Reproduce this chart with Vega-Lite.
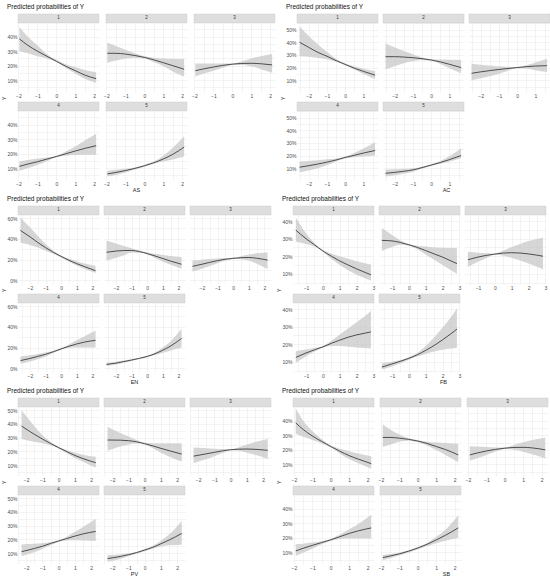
{
"$schema": "https://vega.github.io/schema/vega-lite/v6.json",
"background": "white",
"padding": {"left": 1, "top": 4, "right": 1, "bottom": 0},
"config": {
  "font": "Liberation Sans",
  "view": {"stroke": null},
  "axis": {"labelFontSize": 5, "labelColor": "#4d4d4d", "ticks": false, "domain": false, "gridColor": "#ebebeb", "gridWidth": 0.6, "labelPadding": 1, "title": null, "labelOverlap": false, "labelFlush": false, "labelBound": false, "tickCount": 40, "titleFontSize": 5.5, "titleFontWeight": "normal", "titleColor": "#222", "titlePadding": 1},
  "title": {"fontSize": 6.5, "fontWeight": "normal", "anchor": "start", "offset": 3, "color": "#111"},
  "area": {"fill": "#c4c4c4", "opacity": 0.7, "interpolate": "monotone"},
  "line": {"color": "#2b2b2b", "strokeWidth": 0.8, "interpolate": "monotone"},
  "rect": {"fill": "#dedede", "stroke": "#cccccc", "strokeWidth": 0.5},
  "text": {"fontSize": 4.5, "color": "#333", "baseline": "middle"},
  "concat": {"spacing": 3}
},
"datasets": {"d": [
{"v":"AS","c":"1","x":-1.95,"p":38.5,"lo":30,"hi":46.5},{"v":"AS","c":"1","x":-1.5,"p":34,"lo":28.5,"hi":40},{"v":"AS","c":"1","x":-1,"p":30,"lo":26.5,"hi":34},{"v":"AS","c":"1","x":-0.5,"p":26.5,"lo":25,"hi":28},{"v":"AS","c":"1","x":0,"p":23,"lo":22.5,"hi":24},{"v":"AS","c":"1","x":0.5,"p":19.5,"lo":18.5,"hi":21},{"v":"AS","c":"1","x":1,"p":16.5,"lo":14.5,"hi":19},{"v":"AS","c":"1","x":1.5,"p":13.5,"lo":11,"hi":17},{"v":"AS","c":"1","x":2.1,"p":11,"lo":8,"hi":15.5},
{"v":"AS","c":"2","x":-1.95,"p":28.5,"lo":22,"hi":36},{"v":"AS","c":"2","x":-1.5,"p":28.5,"lo":23.5,"hi":33.5},{"v":"AS","c":"2","x":-1,"p":28,"lo":25,"hi":31},{"v":"AS","c":"2","x":-0.5,"p":27,"lo":25.5,"hi":28.5},{"v":"AS","c":"2","x":0,"p":25.7,"lo":25,"hi":26.5},{"v":"AS","c":"2","x":0.5,"p":24,"lo":22.5,"hi":25.5},{"v":"AS","c":"2","x":1,"p":22,"lo":19.5,"hi":25},{"v":"AS","c":"2","x":1.5,"p":20,"lo":16,"hi":24.7},{"v":"AS","c":"2","x":2.1,"p":17.5,"lo":12.5,"hi":24.5},
{"v":"AS","c":"3","x":-1.95,"p":16.5,"lo":12.5,"hi":21.5},{"v":"AS","c":"3","x":-1.5,"p":17.8,"lo":14.5,"hi":21.5},{"v":"AS","c":"3","x":-1,"p":19,"lo":16.5,"hi":21.5},{"v":"AS","c":"3","x":-0.5,"p":20.2,"lo":18.5,"hi":21.5},{"v":"AS","c":"3","x":0,"p":21,"lo":20.5,"hi":21.5},{"v":"AS","c":"3","x":0.5,"p":21.5,"lo":20.5,"hi":23},{"v":"AS","c":"3","x":1,"p":21.6,"lo":19.5,"hi":25},{"v":"AS","c":"3","x":1.5,"p":21.3,"lo":17.5,"hi":26.5},{"v":"AS","c":"3","x":2.1,"p":20.5,"lo":15,"hi":28},
{"v":"AS","c":"4","x":-1.95,"p":11.2,"lo":8,"hi":14.6},{"v":"AS","c":"4","x":-1.5,"p":12.8,"lo":10,"hi":15.6},{"v":"AS","c":"4","x":-1,"p":14.4,"lo":12.2,"hi":16.5},{"v":"AS","c":"4","x":-0.5,"p":16.2,"lo":14.8,"hi":17.3},{"v":"AS","c":"4","x":0,"p":18,"lo":17.5,"hi":18.5},{"v":"AS","c":"4","x":0.5,"p":19.9,"lo":18.5,"hi":21.5},{"v":"AS","c":"4","x":1,"p":21.8,"lo":19,"hi":25},{"v":"AS","c":"4","x":1.5,"p":23.6,"lo":19.2,"hi":29},{"v":"AS","c":"4","x":2.1,"p":25.5,"lo":19.3,"hi":33.8},
{"v":"AS","c":"5","x":-1.95,"p":6,"lo":4.2,"hi":8.2},{"v":"AS","c":"5","x":-1.5,"p":7,"lo":5.3,"hi":8.8},{"v":"AS","c":"5","x":-1,"p":8.3,"lo":7,"hi":9.5},{"v":"AS","c":"5","x":-0.5,"p":9.8,"lo":9,"hi":10.5},{"v":"AS","c":"5","x":0,"p":11.6,"lo":11,"hi":12.2},{"v":"AS","c":"5","x":0.5,"p":13.7,"lo":13,"hi":14.5},{"v":"AS","c":"5","x":1,"p":16.3,"lo":14.5,"hi":18.5},{"v":"AS","c":"5","x":1.5,"p":19.5,"lo":16,"hi":24},{"v":"AS","c":"5","x":2.1,"p":24.5,"lo":18,"hi":32},
{"v":"AC","c":"1","x":-2.5,"p":40,"lo":29,"hi":52.5},{"v":"AC","c":"1","x":-2,"p":36,"lo":28.5,"hi":45},{"v":"AC","c":"1","x":-1.5,"p":32,"lo":27.5,"hi":38.5},{"v":"AC","c":"1","x":-1,"p":29,"lo":26.5,"hi":32.5},{"v":"AC","c":"1","x":-0.5,"p":25.5,"lo":24.5,"hi":27},{"v":"AC","c":"1","x":0,"p":22.5,"lo":21.8,"hi":23.2},{"v":"AC","c":"1","x":0.5,"p":19.5,"lo":18.5,"hi":21},{"v":"AC","c":"1","x":1,"p":17,"lo":15,"hi":19},{"v":"AC","c":"1","x":1.64,"p":14,"lo":11,"hi":17},
{"v":"AC","c":"2","x":-2.5,"p":28.6,"lo":18.7,"hi":39},{"v":"AC","c":"2","x":-2,"p":28.6,"lo":21,"hi":36},{"v":"AC","c":"2","x":-1.5,"p":28.3,"lo":23.5,"hi":33},{"v":"AC","c":"2","x":-1,"p":27.8,"lo":25,"hi":30.5},{"v":"AC","c":"2","x":-0.5,"p":27,"lo":26,"hi":28},{"v":"AC","c":"2","x":0,"p":26,"lo":25.4,"hi":26.6},{"v":"AC","c":"2","x":0.5,"p":24.5,"lo":22.8,"hi":26.3},{"v":"AC","c":"2","x":1,"p":22.6,"lo":19.5,"hi":26.2},{"v":"AC","c":"2","x":1.64,"p":20,"lo":15.5,"hi":26},
{"v":"AC","c":"3","x":-2.5,"p":15.5,"lo":10,"hi":23},{"v":"AC","c":"3","x":-2,"p":16.6,"lo":11.5,"hi":22.3},{"v":"AC","c":"3","x":-1.5,"p":17.6,"lo":13.2,"hi":21.6},{"v":"AC","c":"3","x":-1,"p":18.5,"lo":15.2,"hi":21},{"v":"AC","c":"3","x":-0.5,"p":19.3,"lo":17.5,"hi":20.6},{"v":"AC","c":"3","x":0,"p":20,"lo":19.6,"hi":20.4},{"v":"AC","c":"3","x":0.5,"p":20.7,"lo":19.2,"hi":21.8},{"v":"AC","c":"3","x":1,"p":21.2,"lo":17.8,"hi":24},{"v":"AC","c":"3","x":1.64,"p":21.5,"lo":16.5,"hi":27},
{"v":"AC","c":"4","x":-2.5,"p":10.8,"lo":6.8,"hi":15.3},{"v":"AC","c":"4","x":-2,"p":12,"lo":8.3,"hi":15.8},{"v":"AC","c":"4","x":-1.5,"p":13.3,"lo":10,"hi":16.3},{"v":"AC","c":"4","x":-1,"p":14.8,"lo":12.3,"hi":17},{"v":"AC","c":"4","x":-0.5,"p":16.5,"lo":15.3,"hi":17.6},{"v":"AC","c":"4","x":0,"p":18.5,"lo":17.8,"hi":19.2},{"v":"AC","c":"4","x":0.5,"p":20.2,"lo":18.7,"hi":22},{"v":"AC","c":"4","x":1,"p":22,"lo":19.3,"hi":25.5},{"v":"AC","c":"4","x":1.64,"p":24,"lo":20,"hi":30.5},
{"v":"AC","c":"5","x":-2.5,"p":6,"lo":3.4,"hi":9},{"v":"AC","c":"5","x":-2,"p":6.7,"lo":4.4,"hi":9.2},{"v":"AC","c":"5","x":-1.5,"p":7.6,"lo":5.6,"hi":9.5},{"v":"AC","c":"5","x":-1,"p":8.7,"lo":7.3,"hi":10},{"v":"AC","c":"5","x":-0.5,"p":10.5,"lo":9.6,"hi":11.2},{"v":"AC","c":"5","x":0,"p":12.5,"lo":11.8,"hi":13.2},{"v":"AC","c":"5","x":0.5,"p":14.5,"lo":13.5,"hi":15.8},{"v":"AC","c":"5","x":1,"p":16.8,"lo":15.3,"hi":19.5},{"v":"AC","c":"5","x":1.64,"p":20,"lo":17.9,"hi":25.8},
{"v":"EN","c":"1","x":-2.6,"p":48,"lo":36.5,"hi":60.5},{"v":"EN","c":"1","x":-2,"p":42,"lo":34,"hi":51},{"v":"EN","c":"1","x":-1.5,"p":36.5,"lo":31.5,"hi":43},{"v":"EN","c":"1","x":-1,"p":31.5,"lo":28.5,"hi":35},{"v":"EN","c":"1","x":-0.5,"p":27,"lo":25.5,"hi":28.5},{"v":"EN","c":"1","x":0,"p":23,"lo":22,"hi":24},{"v":"EN","c":"1","x":0.5,"p":19.3,"lo":18,"hi":21},{"v":"EN","c":"1","x":1,"p":16,"lo":14.3,"hi":18.3},{"v":"EN","c":"1","x":1.5,"p":13.2,"lo":11,"hi":16.2},{"v":"EN","c":"1","x":2.2,"p":9.3,"lo":7.2,"hi":14},
{"v":"EN","c":"2","x":-2.6,"p":27,"lo":19,"hi":38},{"v":"EN","c":"2","x":-2,"p":28.2,"lo":21.5,"hi":35.5},{"v":"EN","c":"2","x":-1.5,"p":28.7,"lo":24,"hi":33},{"v":"EN","c":"2","x":-1,"p":28.8,"lo":26.5,"hi":31},{"v":"EN","c":"2","x":-0.5,"p":27.7,"lo":26.5,"hi":28.8},{"v":"EN","c":"2","x":0,"p":25.8,"lo":24.8,"hi":26.8},{"v":"EN","c":"2","x":0.5,"p":23.5,"lo":21.5,"hi":25.5},{"v":"EN","c":"2","x":1,"p":21,"lo":18,"hi":24.5},{"v":"EN","c":"2","x":1.5,"p":18.5,"lo":15,"hi":23.5},{"v":"EN","c":"2","x":2.2,"p":15.5,"lo":11,"hi":22.5},
{"v":"EN","c":"3","x":-2.6,"p":13.5,"lo":8.5,"hi":19},{"v":"EN","c":"3","x":-2,"p":15.5,"lo":11.2,"hi":19.8},{"v":"EN","c":"3","x":-1.5,"p":17.3,"lo":13.8,"hi":20.5},{"v":"EN","c":"3","x":-1,"p":19,"lo":16.5,"hi":21},{"v":"EN","c":"3","x":-0.5,"p":20.3,"lo":19,"hi":21.4},{"v":"EN","c":"3","x":0,"p":21.2,"lo":20.5,"hi":21.8},{"v":"EN","c":"3","x":0.5,"p":21.8,"lo":20.3,"hi":23.3},{"v":"EN","c":"3","x":1,"p":22,"lo":19,"hi":25},{"v":"EN","c":"3","x":1.5,"p":21.3,"lo":16,"hi":26},{"v":"EN","c":"3","x":2.2,"p":19.5,"lo":11,"hi":27},
{"v":"EN","c":"4","x":-2.6,"p":7.5,"lo":4.4,"hi":11.5},{"v":"EN","c":"4","x":-2,"p":9.5,"lo":6.5,"hi":12.5},{"v":"EN","c":"4","x":-1.5,"p":11.5,"lo":8.8,"hi":13.8},{"v":"EN","c":"4","x":-1,"p":13.5,"lo":11.5,"hi":15.3},{"v":"EN","c":"4","x":-0.5,"p":16,"lo":14.8,"hi":17},{"v":"EN","c":"4","x":0,"p":18.7,"lo":18,"hi":19.5},{"v":"EN","c":"4","x":0.5,"p":21.3,"lo":19.8,"hi":23},{"v":"EN","c":"4","x":1,"p":23.5,"lo":20,"hi":27},{"v":"EN","c":"4","x":1.5,"p":25.3,"lo":20,"hi":31},{"v":"EN","c":"4","x":2.2,"p":27,"lo":20,"hi":36.5},
{"v":"EN","c":"5","x":-2.6,"p":3.8,"lo":2.2,"hi":5.6},{"v":"EN","c":"5","x":-2,"p":5,"lo":3.6,"hi":6.4},{"v":"EN","c":"5","x":-1.5,"p":6.5,"lo":5.3,"hi":7.5},{"v":"EN","c":"5","x":-1,"p":8,"lo":7.2,"hi":8.8},{"v":"EN","c":"5","x":-0.5,"p":9.6,"lo":9,"hi":10.3},{"v":"EN","c":"5","x":0,"p":11.5,"lo":10.8,"hi":12.2},{"v":"EN","c":"5","x":0.5,"p":14,"lo":12.8,"hi":15.3},{"v":"EN","c":"5","x":1,"p":17.5,"lo":15,"hi":20},{"v":"EN","c":"5","x":1.5,"p":21.5,"lo":17.3,"hi":26},{"v":"EN","c":"5","x":2.2,"p":28.8,"lo":20,"hi":38},
{"v":"FB","c":"1","x":-1.6,"p":34.8,"lo":28.4,"hi":42},{"v":"FB","c":"1","x":-1,"p":30,"lo":27,"hi":33},{"v":"FB","c":"1","x":-0.5,"p":26.5,"lo":25.5,"hi":27.5},{"v":"FB","c":"1","x":0,"p":23,"lo":22.5,"hi":23.5},{"v":"FB","c":"1","x":0.5,"p":20,"lo":18.5,"hi":21.5},{"v":"FB","c":"1","x":1,"p":17.3,"lo":15,"hi":20},{"v":"FB","c":"1","x":1.5,"p":15,"lo":12,"hi":18.5},{"v":"FB","c":"1","x":2,"p":12.8,"lo":9.5,"hi":17.2},{"v":"FB","c":"1","x":2.5,"p":10.8,"lo":7.5,"hi":16},{"v":"FB","c":"1","x":2.85,"p":9.4,"lo":6.2,"hi":15.3},
{"v":"FB","c":"2","x":-1.6,"p":29,"lo":23,"hi":36},{"v":"FB","c":"2","x":-1,"p":28.7,"lo":25.2,"hi":32},{"v":"FB","c":"2","x":-0.5,"p":27.8,"lo":26.5,"hi":29},{"v":"FB","c":"2","x":0,"p":26.5,"lo":26,"hi":27},{"v":"FB","c":"2","x":0.5,"p":25,"lo":24,"hi":26},{"v":"FB","c":"2","x":1,"p":23.2,"lo":21,"hi":25.5},{"v":"FB","c":"2","x":1.5,"p":21.3,"lo":18,"hi":25},{"v":"FB","c":"2","x":2,"p":19.5,"lo":15,"hi":24.8},{"v":"FB","c":"2","x":2.5,"p":17.3,"lo":12,"hi":24.6},{"v":"FB","c":"2","x":2.85,"p":15.8,"lo":10,"hi":24.5},
{"v":"FB","c":"3","x":-1.6,"p":18,"lo":14,"hi":22.5},{"v":"FB","c":"3","x":-1,"p":19.5,"lo":16.8,"hi":22},{"v":"FB","c":"3","x":-0.5,"p":20.5,"lo":19,"hi":21.7},{"v":"FB","c":"3","x":0,"p":21.2,"lo":20.8,"hi":21.6},{"v":"FB","c":"3","x":0.5,"p":21.8,"lo":20.3,"hi":23.2},{"v":"FB","c":"3","x":1,"p":22,"lo":19,"hi":25.2},{"v":"FB","c":"3","x":1.5,"p":21.8,"lo":17.5,"hi":27},{"v":"FB","c":"3","x":2,"p":21.3,"lo":15.8,"hi":28.6},{"v":"FB","c":"3","x":2.5,"p":20.6,"lo":14,"hi":29.8},{"v":"FB","c":"3","x":2.85,"p":20,"lo":12.5,"hi":30.5},
{"v":"FB","c":"4","x":-1.6,"p":12.5,"lo":9.4,"hi":16},{"v":"FB","c":"4","x":-1,"p":15,"lo":13,"hi":17},{"v":"FB","c":"4","x":-0.5,"p":16.8,"lo":15.8,"hi":17.8},{"v":"FB","c":"4","x":0,"p":18.5,"lo":18,"hi":19},{"v":"FB","c":"4","x":0.5,"p":20.5,"lo":19,"hi":22},{"v":"FB","c":"4","x":1,"p":22.3,"lo":19,"hi":25.5},{"v":"FB","c":"4","x":1.5,"p":24,"lo":18.6,"hi":29},{"v":"FB","c":"4","x":2,"p":25.3,"lo":18.2,"hi":32.5},{"v":"FB","c":"4","x":2.5,"p":26.3,"lo":17.8,"hi":36},{"v":"FB","c":"4","x":2.85,"p":27,"lo":17.5,"hi":39},
{"v":"FB","c":"5","x":-1.6,"p":7,"lo":5.6,"hi":9.2},{"v":"FB","c":"5","x":-1,"p":8.8,"lo":7.3,"hi":10},{"v":"FB","c":"5","x":-0.5,"p":10.3,"lo":9.2,"hi":11},{"v":"FB","c":"5","x":0,"p":12,"lo":11.2,"hi":12.7},{"v":"FB","c":"5","x":0.5,"p":14,"lo":13,"hi":15},{"v":"FB","c":"5","x":1,"p":16.5,"lo":14.5,"hi":19},{"v":"FB","c":"5","x":1.5,"p":19.3,"lo":15.8,"hi":24},{"v":"FB","c":"5","x":2,"p":22.5,"lo":16.8,"hi":29.5},{"v":"FB","c":"5","x":2.5,"p":26,"lo":17.5,"hi":35.5},{"v":"FB","c":"5","x":2.85,"p":28.6,"lo":18,"hi":40.5},
{"v":"PV","c":"1","x":-2.28,"p":38.5,"lo":29,"hi":50},{"v":"PV","c":"1","x":-1.5,"p":32.5,"lo":27,"hi":38.5},{"v":"PV","c":"1","x":-1,"p":29,"lo":26,"hi":32},{"v":"PV","c":"1","x":-0.5,"p":25.8,"lo":24.5,"hi":27},{"v":"PV","c":"1","x":0,"p":22.7,"lo":22,"hi":23.3},{"v":"PV","c":"1","x":0.5,"p":19.8,"lo":18.6,"hi":21},{"v":"PV","c":"1","x":1,"p":17,"lo":15.2,"hi":19},{"v":"PV","c":"1","x":1.5,"p":14.7,"lo":12.5,"hi":17.6},{"v":"PV","c":"1","x":2.28,"p":11.7,"lo":8,"hi":16},
{"v":"PV","c":"2","x":-2.28,"p":28.3,"lo":20.5,"hi":38},{"v":"PV","c":"2","x":-1.5,"p":28.2,"lo":23.5,"hi":33.5},{"v":"PV","c":"2","x":-1,"p":27.8,"lo":25,"hi":31},{"v":"PV","c":"2","x":-0.5,"p":27,"lo":25.8,"hi":28.3},{"v":"PV","c":"2","x":0,"p":25.6,"lo":25,"hi":26.3},{"v":"PV","c":"2","x":0.5,"p":24,"lo":22.2,"hi":26},{"v":"PV","c":"2","x":1,"p":22.2,"lo":19,"hi":26},{"v":"PV","c":"2","x":1.5,"p":20.5,"lo":16.2,"hi":26},{"v":"PV","c":"2","x":2.28,"p":18,"lo":12.5,"hi":26},
{"v":"PV","c":"3","x":-2.28,"p":16.5,"lo":11.4,"hi":22.8},{"v":"PV","c":"3","x":-1.5,"p":18.2,"lo":14.5,"hi":22.3},{"v":"PV","c":"3","x":-1,"p":19.3,"lo":16.5,"hi":22},{"v":"PV","c":"3","x":-0.5,"p":20.4,"lo":18.8,"hi":21.7},{"v":"PV","c":"3","x":0,"p":21.2,"lo":20.8,"hi":21.6},{"v":"PV","c":"3","x":0.5,"p":21.6,"lo":20.4,"hi":23},{"v":"PV","c":"3","x":1,"p":21.7,"lo":19,"hi":25},{"v":"PV","c":"3","x":1.5,"p":21.5,"lo":17.5,"hi":26.8},{"v":"PV","c":"3","x":2.28,"p":20.8,"lo":14.5,"hi":29},
{"v":"PV","c":"4","x":-2.28,"p":11,"lo":7.8,"hi":16.3},{"v":"PV","c":"4","x":-1.5,"p":13.3,"lo":10.5,"hi":16.8},{"v":"PV","c":"4","x":-1,"p":15,"lo":13,"hi":17.2},{"v":"PV","c":"4","x":-0.5,"p":17,"lo":15.7,"hi":18},{"v":"PV","c":"4","x":0,"p":18.8,"lo":18.3,"hi":19.3},{"v":"PV","c":"4","x":0.5,"p":20.6,"lo":19.2,"hi":22},{"v":"PV","c":"4","x":1,"p":22.4,"lo":19.3,"hi":25.5},{"v":"PV","c":"4","x":1.5,"p":24,"lo":19.1,"hi":29},{"v":"PV","c":"4","x":2.28,"p":25.8,"lo":18.8,"hi":35},
{"v":"PV","c":"5","x":-2.28,"p":6,"lo":3.7,"hi":8.5},{"v":"PV","c":"5","x":-1.5,"p":7.5,"lo":5.7,"hi":9},{"v":"PV","c":"5","x":-1,"p":8.8,"lo":7.6,"hi":9.8},{"v":"PV","c":"5","x":-0.5,"p":10.3,"lo":9.5,"hi":11},{"v":"PV","c":"5","x":0,"p":12.2,"lo":11.4,"hi":12.9},{"v":"PV","c":"5","x":0.5,"p":14.2,"lo":13.2,"hi":15.3},{"v":"PV","c":"5","x":1,"p":16.8,"lo":14.8,"hi":19},{"v":"PV","c":"5","x":1.5,"p":19.5,"lo":15.7,"hi":23.5},{"v":"PV","c":"5","x":2.28,"p":24.3,"lo":16,"hi":33.5},
{"v":"SB","c":"1","x":-1.9,"p":38.5,"lo":31,"hi":48.5},{"v":"SB","c":"1","x":-1.5,"p":34,"lo":29,"hi":40},{"v":"SB","c":"1","x":-1,"p":29.5,"lo":26.8,"hi":33},{"v":"SB","c":"1","x":-0.5,"p":25.8,"lo":24.5,"hi":27.5},{"v":"SB","c":"1","x":0,"p":22.3,"lo":21.5,"hi":23},{"v":"SB","c":"1","x":0.5,"p":19,"lo":17.3,"hi":20.8},{"v":"SB","c":"1","x":1,"p":16,"lo":13.7,"hi":19},{"v":"SB","c":"1","x":1.5,"p":13.6,"lo":10.7,"hi":17.5},{"v":"SB","c":"1","x":2.2,"p":10.5,"lo":7,"hi":15.5},
{"v":"SB","c":"2","x":-1.9,"p":28.5,"lo":22,"hi":37.5},{"v":"SB","c":"2","x":-1.5,"p":28.5,"lo":23.5,"hi":34},{"v":"SB","c":"2","x":-1,"p":28,"lo":25.5,"hi":30.5},{"v":"SB","c":"2","x":-0.5,"p":27.2,"lo":26.3,"hi":28},{"v":"SB","c":"2","x":0,"p":26,"lo":25.3,"hi":26.8},{"v":"SB","c":"2","x":0.5,"p":24.4,"lo":23,"hi":25.5},{"v":"SB","c":"2","x":1,"p":22.3,"lo":19.8,"hi":25},{"v":"SB","c":"2","x":1.5,"p":20.2,"lo":16.5,"hi":24.6},{"v":"SB","c":"2","x":2.2,"p":16.5,"lo":11.5,"hi":24},
{"v":"SB","c":"3","x":-1.9,"p":16.5,"lo":12.5,"hi":22.5},{"v":"SB","c":"3","x":-1.5,"p":17.8,"lo":14.2,"hi":22.2},{"v":"SB","c":"3","x":-1,"p":19.2,"lo":16.5,"hi":21.9},{"v":"SB","c":"3","x":-0.5,"p":20.3,"lo":18.8,"hi":21.6},{"v":"SB","c":"3","x":0,"p":21.1,"lo":20.6,"hi":21.5},{"v":"SB","c":"3","x":0.5,"p":21.6,"lo":20,"hi":23.3},{"v":"SB","c":"3","x":1,"p":21.7,"lo":18.7,"hi":25.2},{"v":"SB","c":"3","x":1.5,"p":21.3,"lo":17,"hi":26.7},{"v":"SB","c":"3","x":2.2,"p":20,"lo":14,"hi":28.3},
{"v":"SB","c":"4","x":-1.9,"p":11,"lo":7.5,"hi":15.5},{"v":"SB","c":"4","x":-1.5,"p":12.8,"lo":9.7,"hi":16},{"v":"SB","c":"4","x":-1,"p":14.8,"lo":12.5,"hi":16.7},{"v":"SB","c":"4","x":-0.5,"p":16.7,"lo":15.5,"hi":17.6},{"v":"SB","c":"4","x":0,"p":18.6,"lo":18,"hi":19.2},{"v":"SB","c":"4","x":0.5,"p":20.8,"lo":19.2,"hi":22.2},{"v":"SB","c":"4","x":1,"p":23,"lo":19.5,"hi":25.8},{"v":"SB","c":"4","x":1.5,"p":24.8,"lo":19.5,"hi":29.5},{"v":"SB","c":"4","x":2.2,"p":26.8,"lo":19.5,"hi":35.9},
{"v":"SB","c":"5","x":-1.9,"p":6.4,"lo":4.5,"hi":8.2},{"v":"SB","c":"5","x":-1.5,"p":7.5,"lo":6,"hi":8.8},{"v":"SB","c":"5","x":-1,"p":9,"lo":7.8,"hi":9.8},{"v":"SB","c":"5","x":-0.5,"p":10.8,"lo":9.8,"hi":11.5},{"v":"SB","c":"5","x":0,"p":13,"lo":12,"hi":13.7},{"v":"SB","c":"5","x":0.5,"p":15.5,"lo":14.2,"hi":16.5},{"v":"SB","c":"5","x":1,"p":18.5,"lo":16.3,"hi":20.5},{"v":"SB","c":"5","x":1.5,"p":21.7,"lo":18,"hi":25.5},{"v":"SB","c":"5","x":2.2,"p":26.8,"lo":20,"hi":35.5}
]},
"vconcat": [
{"spacing": 4, "hconcat": [
 {"title": {"text": "Y", "orient": "left", "anchor": "middle", "fontSize": 5, "offset": 0},
  "vconcat": [{
  "title": "Predicted probabilities of Y",
  "data": {"name": "d"}, "transform": [{"filter": "datum.v == 'AS'"}],
  "columns": 3, "spacing": {"column": 3, "row": 3},
  "concat": [
   {"transform": [{"filter": "datum.c == '1'"}], "width": 81, "height": 78, "layer": [
    {"mark": "area", "encoding": {"x": {"field": "x", "type": "quantitative", "scale": {"domain": [-2.02, 2.25], "nice": false, "zero": false}, "axis": {"values": [-2,-1.5,-1,-0.5,0,0.5,1,1.5,2], "tickCount": 40, "labelExpr": "datum.value % 1 == 0 ? format(datum.value, 'd') : ''"}}, "y": {"field": "lo", "type": "quantitative", "scale": {"domain": [1.8, 55.63], "nice": false, "zero": false}, "axis": {"values": [5,10,15,20,25,30,35,40,45], "tickCount": 40, "labelExpr": "datum.value % 10 == 0 ? datum.value + '%' : ''"}}, "y2": {"field": "hi"}}},
    {"mark": "line", "encoding": {"x": {"field": "x", "type": "quantitative"}, "y": {"field": "p", "type": "quantitative"}}},
    {"transform": [{"aggregate": [{"op": "count", "as": "n"}], "groupby": ["c"]}], "mark": "rect", "encoding": {"y": {"datum": 55.63, "type": "quantitative"}, "y2": {"datum": 49.5}}},
    {"transform": [{"aggregate": [{"op": "count", "as": "n"}], "groupby": ["c"]}], "mark": "text", "encoding": {"y": {"datum": 52.56, "type": "quantitative"}, "text": {"field": "c"}}}]},
   {"transform": [{"filter": "datum.c == '2'"}], "width": 81, "height": 78, "layer": [
    {"mark": "area", "encoding": {"x": {"field": "x", "type": "quantitative", "scale": {"domain": [-2.02, 2.25], "nice": false, "zero": false}, "axis": {"values": [-2,-1.5,-1,-0.5,0,0.5,1,1.5,2], "tickCount": 40, "labelExpr": "datum.value % 1 == 0 ? format(datum.value, 'd') : ''"}}, "y": {"field": "lo", "type": "quantitative", "scale": {"domain": [1.8, 55.63], "nice": false, "zero": false}, "axis": {"values": [5,10,15,20,25,30,35,40,45], "tickCount": 40, "labels": false}}, "y2": {"field": "hi"}}},
    {"mark": "line", "encoding": {"x": {"field": "x", "type": "quantitative"}, "y": {"field": "p", "type": "quantitative"}}},
    {"transform": [{"aggregate": [{"op": "count", "as": "n"}], "groupby": ["c"]}], "mark": "rect", "encoding": {"y": {"datum": 55.63, "type": "quantitative"}, "y2": {"datum": 49.5}}},
    {"transform": [{"aggregate": [{"op": "count", "as": "n"}], "groupby": ["c"]}], "mark": "text", "encoding": {"y": {"datum": 52.56, "type": "quantitative"}, "text": {"field": "c"}}}]},
   {"transform": [{"filter": "datum.c == '3'"}], "width": 81, "height": 78, "layer": [
    {"mark": "area", "encoding": {"x": {"field": "x", "type": "quantitative", "scale": {"domain": [-2.02, 2.25], "nice": false, "zero": false}, "axis": {"values": [-2,-1.5,-1,-0.5,0,0.5,1,1.5,2], "tickCount": 40, "labelExpr": "datum.value % 1 == 0 ? format(datum.value, 'd') : ''"}}, "y": {"field": "lo", "type": "quantitative", "scale": {"domain": [1.8, 55.63], "nice": false, "zero": false}, "axis": {"values": [5,10,15,20,25,30,35,40,45], "tickCount": 40, "labels": false}}, "y2": {"field": "hi"}}},
    {"mark": "line", "encoding": {"x": {"field": "x", "type": "quantitative"}, "y": {"field": "p", "type": "quantitative"}}},
    {"transform": [{"aggregate": [{"op": "count", "as": "n"}], "groupby": ["c"]}], "mark": "rect", "encoding": {"y": {"datum": 55.63, "type": "quantitative"}, "y2": {"datum": 49.5}}},
    {"transform": [{"aggregate": [{"op": "count", "as": "n"}], "groupby": ["c"]}], "mark": "text", "encoding": {"y": {"datum": 52.56, "type": "quantitative"}, "text": {"field": "c"}}}]},
   {"transform": [{"filter": "datum.c == '4'"}], "width": 81, "height": 78, "layer": [
    {"mark": "area", "encoding": {"x": {"field": "x", "type": "quantitative", "scale": {"domain": [-2.02, 2.25], "nice": false, "zero": false}, "axis": {"values": [-2,-1.5,-1,-0.5,0,0.5,1,1.5,2], "tickCount": 40, "labelExpr": "datum.value % 1 == 0 ? format(datum.value, 'd') : ''"}}, "y": {"field": "lo", "type": "quantitative", "scale": {"domain": [1.8, 55.63], "nice": false, "zero": false}, "axis": {"values": [5,10,15,20,25,30,35,40,45], "tickCount": 40, "labelExpr": "datum.value % 10 == 0 ? datum.value + '%' : ''"}}, "y2": {"field": "hi"}}},
    {"mark": "line", "encoding": {"x": {"field": "x", "type": "quantitative"}, "y": {"field": "p", "type": "quantitative"}}},
    {"transform": [{"aggregate": [{"op": "count", "as": "n"}], "groupby": ["c"]}], "mark": "rect", "encoding": {"y": {"datum": 55.63, "type": "quantitative"}, "y2": {"datum": 49.5}}},
    {"transform": [{"aggregate": [{"op": "count", "as": "n"}], "groupby": ["c"]}], "mark": "text", "encoding": {"y": {"datum": 52.56, "type": "quantitative"}, "text": {"field": "c"}}}]},
   {"transform": [{"filter": "datum.c == '5'"}], "width": 81, "height": 78, "layer": [
    {"mark": "area", "encoding": {"x": {"field": "x", "type": "quantitative", "scale": {"domain": [-2.02, 2.25], "nice": false, "zero": false}, "axis": {"values": [-2,-1.5,-1,-0.5,0,0.5,1,1.5,2], "tickCount": 40, "labelExpr": "datum.value % 1 == 0 ? format(datum.value, 'd') : ''", "title": "AS", "titleX": 30}}, "y": {"field": "lo", "type": "quantitative", "scale": {"domain": [1.8, 55.63], "nice": false, "zero": false}, "axis": {"values": [5,10,15,20,25,30,35,40,45], "tickCount": 40, "labels": false}}, "y2": {"field": "hi"}}},
    {"mark": "line", "encoding": {"x": {"field": "x", "type": "quantitative"}, "y": {"field": "p", "type": "quantitative"}}},
    {"transform": [{"aggregate": [{"op": "count", "as": "n"}], "groupby": ["c"]}], "mark": "rect", "encoding": {"y": {"datum": 55.63, "type": "quantitative"}, "y2": {"datum": 49.5}}},
    {"transform": [{"aggregate": [{"op": "count", "as": "n"}], "groupby": ["c"]}], "mark": "text", "encoding": {"y": {"datum": 52.56, "type": "quantitative"}, "text": {"field": "c"}}}]}
  ]}]},
 {"title": {"text": "Y", "orient": "left", "anchor": "middle", "fontSize": 5, "offset": 0},
  "vconcat": [{
  "title": "Predicted probabilities of Y",
  "data": {"name": "d"}, "transform": [{"filter": "datum.v == 'AC'"}],
  "columns": 3, "spacing": {"column": 3, "row": 3},
  "concat": [
   {"transform": [{"filter": "datum.c == '1'"}], "width": 81, "height": 78, "layer": [
    {"mark": "area", "encoding": {"x": {"field": "x", "type": "quantitative", "scale": {"domain": [-2.64, 1.8], "nice": false, "zero": false}, "axis": {"values": [-2.5,-2,-1.5,-1,-0.5,0,0.5,1,1.5], "tickCount": 40, "labelExpr": "datum.value % 1 == 0 ? format(datum.value, 'd') : ''"}}, "y": {"field": "lo", "type": "quantitative", "scale": {"domain": [0.7, 62.32], "nice": false, "zero": false}, "axis": {"values": [5,10,15,20,25,30,35,40,45,50,55], "tickCount": 40, "labelExpr": "datum.value % 10 == 0 ? datum.value + '%' : ''"}}, "y2": {"field": "hi"}}},
    {"mark": "line", "encoding": {"x": {"field": "x", "type": "quantitative"}, "y": {"field": "p", "type": "quantitative"}}},
    {"transform": [{"aggregate": [{"op": "count", "as": "n"}], "groupby": ["c"]}], "mark": "rect", "encoding": {"y": {"datum": 62.32, "type": "quantitative"}, "y2": {"datum": 55.3}}},
    {"transform": [{"aggregate": [{"op": "count", "as": "n"}], "groupby": ["c"]}], "mark": "text", "encoding": {"y": {"datum": 58.81, "type": "quantitative"}, "text": {"field": "c"}}}]},
   {"transform": [{"filter": "datum.c == '2'"}], "width": 81, "height": 78, "layer": [
    {"mark": "area", "encoding": {"x": {"field": "x", "type": "quantitative", "scale": {"domain": [-2.64, 1.8], "nice": false, "zero": false}, "axis": {"values": [-2.5,-2,-1.5,-1,-0.5,0,0.5,1,1.5], "tickCount": 40, "labelExpr": "datum.value % 1 == 0 ? format(datum.value, 'd') : ''"}}, "y": {"field": "lo", "type": "quantitative", "scale": {"domain": [0.7, 62.32], "nice": false, "zero": false}, "axis": {"values": [5,10,15,20,25,30,35,40,45,50,55], "tickCount": 40, "labels": false}}, "y2": {"field": "hi"}}},
    {"mark": "line", "encoding": {"x": {"field": "x", "type": "quantitative"}, "y": {"field": "p", "type": "quantitative"}}},
    {"transform": [{"aggregate": [{"op": "count", "as": "n"}], "groupby": ["c"]}], "mark": "rect", "encoding": {"y": {"datum": 62.32, "type": "quantitative"}, "y2": {"datum": 55.3}}},
    {"transform": [{"aggregate": [{"op": "count", "as": "n"}], "groupby": ["c"]}], "mark": "text", "encoding": {"y": {"datum": 58.81, "type": "quantitative"}, "text": {"field": "c"}}}]},
   {"transform": [{"filter": "datum.c == '3'"}], "width": 81, "height": 78, "layer": [
    {"mark": "area", "encoding": {"x": {"field": "x", "type": "quantitative", "scale": {"domain": [-2.64, 1.8], "nice": false, "zero": false}, "axis": {"values": [-2.5,-2,-1.5,-1,-0.5,0,0.5,1,1.5], "tickCount": 40, "labelExpr": "datum.value % 1 == 0 ? format(datum.value, 'd') : ''"}}, "y": {"field": "lo", "type": "quantitative", "scale": {"domain": [0.7, 62.32], "nice": false, "zero": false}, "axis": {"values": [5,10,15,20,25,30,35,40,45,50,55], "tickCount": 40, "labels": false}}, "y2": {"field": "hi"}}},
    {"mark": "line", "encoding": {"x": {"field": "x", "type": "quantitative"}, "y": {"field": "p", "type": "quantitative"}}},
    {"transform": [{"aggregate": [{"op": "count", "as": "n"}], "groupby": ["c"]}], "mark": "rect", "encoding": {"y": {"datum": 62.32, "type": "quantitative"}, "y2": {"datum": 55.3}}},
    {"transform": [{"aggregate": [{"op": "count", "as": "n"}], "groupby": ["c"]}], "mark": "text", "encoding": {"y": {"datum": 58.81, "type": "quantitative"}, "text": {"field": "c"}}}]},
   {"transform": [{"filter": "datum.c == '4'"}], "width": 81, "height": 78, "layer": [
    {"mark": "area", "encoding": {"x": {"field": "x", "type": "quantitative", "scale": {"domain": [-2.64, 1.8], "nice": false, "zero": false}, "axis": {"values": [-2.5,-2,-1.5,-1,-0.5,0,0.5,1,1.5], "tickCount": 40, "labelExpr": "datum.value % 1 == 0 ? format(datum.value, 'd') : ''"}}, "y": {"field": "lo", "type": "quantitative", "scale": {"domain": [0.7, 62.32], "nice": false, "zero": false}, "axis": {"values": [5,10,15,20,25,30,35,40,45,50,55], "tickCount": 40, "labelExpr": "datum.value % 10 == 0 ? datum.value + '%' : ''"}}, "y2": {"field": "hi"}}},
    {"mark": "line", "encoding": {"x": {"field": "x", "type": "quantitative"}, "y": {"field": "p", "type": "quantitative"}}},
    {"transform": [{"aggregate": [{"op": "count", "as": "n"}], "groupby": ["c"]}], "mark": "rect", "encoding": {"y": {"datum": 62.32, "type": "quantitative"}, "y2": {"datum": 55.3}}},
    {"transform": [{"aggregate": [{"op": "count", "as": "n"}], "groupby": ["c"]}], "mark": "text", "encoding": {"y": {"datum": 58.81, "type": "quantitative"}, "text": {"field": "c"}}}]},
   {"transform": [{"filter": "datum.c == '5'"}], "width": 81, "height": 78, "layer": [
    {"mark": "area", "encoding": {"x": {"field": "x", "type": "quantitative", "scale": {"domain": [-2.64, 1.8], "nice": false, "zero": false}, "axis": {"values": [-2.5,-2,-1.5,-1,-0.5,0,0.5,1,1.5], "tickCount": 40, "labelExpr": "datum.value % 1 == 0 ? format(datum.value, 'd') : ''", "title": "AC", "titleX": 63}}, "y": {"field": "lo", "type": "quantitative", "scale": {"domain": [0.7, 62.32], "nice": false, "zero": false}, "axis": {"values": [5,10,15,20,25,30,35,40,45,50,55], "tickCount": 40, "labels": false}}, "y2": {"field": "hi"}}},
    {"mark": "line", "encoding": {"x": {"field": "x", "type": "quantitative"}, "y": {"field": "p", "type": "quantitative"}}},
    {"transform": [{"aggregate": [{"op": "count", "as": "n"}], "groupby": ["c"]}], "mark": "rect", "encoding": {"y": {"datum": 62.32, "type": "quantitative"}, "y2": {"datum": 55.3}}},
    {"transform": [{"aggregate": [{"op": "count", "as": "n"}], "groupby": ["c"]}], "mark": "text", "encoding": {"y": {"datum": 58.81, "type": "quantitative"}, "text": {"field": "c"}}}]}
  ]}]}
]},
{"spacing": 4, "hconcat": [
 {"title": {"text": "Y", "orient": "left", "anchor": "middle", "fontSize": 5, "offset": 0},
  "vconcat": [{
  "title": "Predicted probabilities of Y",
  "data": {"name": "d"}, "transform": [{"filter": "datum.v == 'EN'"}],
  "columns": 3, "spacing": {"column": 3, "row": 3},
  "concat": [
   {"transform": [{"filter": "datum.c == '1'"}], "width": 81, "height": 78, "layer": [
    {"mark": "area", "encoding": {"x": {"field": "x", "type": "quantitative", "scale": {"domain": [-2.76, 2.42], "nice": false, "zero": false}, "axis": {"values": [-2.5,-2,-1.5,-1,-0.5,0,0.5,1,1.5,2], "tickCount": 40, "labelExpr": "datum.value % 1 == 0 ? format(datum.value, 'd') : ''"}}, "y": {"field": "lo", "type": "quantitative", "scale": {"domain": [-3.5, 71.55], "nice": false, "zero": false}, "axis": {"values": [0,10,20,30,40,50,60], "tickCount": 40, "labelExpr": "datum.value % 20 == 0 ? datum.value + '%' : ''"}}, "y2": {"field": "hi"}}},
    {"mark": "line", "encoding": {"x": {"field": "x", "type": "quantitative"}, "y": {"field": "p", "type": "quantitative"}}},
    {"transform": [{"aggregate": [{"op": "count", "as": "n"}], "groupby": ["c"]}], "mark": "rect", "encoding": {"y": {"datum": 71.55, "type": "quantitative"}, "y2": {"datum": 63}}},
    {"transform": [{"aggregate": [{"op": "count", "as": "n"}], "groupby": ["c"]}], "mark": "text", "encoding": {"y": {"datum": 67.27, "type": "quantitative"}, "text": {"field": "c"}}}]},
   {"transform": [{"filter": "datum.c == '2'"}], "width": 81, "height": 78, "layer": [
    {"mark": "area", "encoding": {"x": {"field": "x", "type": "quantitative", "scale": {"domain": [-2.76, 2.42], "nice": false, "zero": false}, "axis": {"values": [-2.5,-2,-1.5,-1,-0.5,0,0.5,1,1.5,2], "tickCount": 40, "labelExpr": "datum.value % 1 == 0 ? format(datum.value, 'd') : ''"}}, "y": {"field": "lo", "type": "quantitative", "scale": {"domain": [-3.5, 71.55], "nice": false, "zero": false}, "axis": {"values": [0,10,20,30,40,50,60], "tickCount": 40, "labels": false}}, "y2": {"field": "hi"}}},
    {"mark": "line", "encoding": {"x": {"field": "x", "type": "quantitative"}, "y": {"field": "p", "type": "quantitative"}}},
    {"transform": [{"aggregate": [{"op": "count", "as": "n"}], "groupby": ["c"]}], "mark": "rect", "encoding": {"y": {"datum": 71.55, "type": "quantitative"}, "y2": {"datum": 63}}},
    {"transform": [{"aggregate": [{"op": "count", "as": "n"}], "groupby": ["c"]}], "mark": "text", "encoding": {"y": {"datum": 67.27, "type": "quantitative"}, "text": {"field": "c"}}}]},
   {"transform": [{"filter": "datum.c == '3'"}], "width": 81, "height": 78, "layer": [
    {"mark": "area", "encoding": {"x": {"field": "x", "type": "quantitative", "scale": {"domain": [-2.76, 2.42], "nice": false, "zero": false}, "axis": {"values": [-2.5,-2,-1.5,-1,-0.5,0,0.5,1,1.5,2], "tickCount": 40, "labelExpr": "datum.value % 1 == 0 ? format(datum.value, 'd') : ''"}}, "y": {"field": "lo", "type": "quantitative", "scale": {"domain": [-3.5, 71.55], "nice": false, "zero": false}, "axis": {"values": [0,10,20,30,40,50,60], "tickCount": 40, "labels": false}}, "y2": {"field": "hi"}}},
    {"mark": "line", "encoding": {"x": {"field": "x", "type": "quantitative"}, "y": {"field": "p", "type": "quantitative"}}},
    {"transform": [{"aggregate": [{"op": "count", "as": "n"}], "groupby": ["c"]}], "mark": "rect", "encoding": {"y": {"datum": 71.55, "type": "quantitative"}, "y2": {"datum": 63}}},
    {"transform": [{"aggregate": [{"op": "count", "as": "n"}], "groupby": ["c"]}], "mark": "text", "encoding": {"y": {"datum": 67.27, "type": "quantitative"}, "text": {"field": "c"}}}]},
   {"transform": [{"filter": "datum.c == '4'"}], "width": 81, "height": 78, "layer": [
    {"mark": "area", "encoding": {"x": {"field": "x", "type": "quantitative", "scale": {"domain": [-2.76, 2.42], "nice": false, "zero": false}, "axis": {"values": [-2.5,-2,-1.5,-1,-0.5,0,0.5,1,1.5,2], "tickCount": 40, "labelExpr": "datum.value % 1 == 0 ? format(datum.value, 'd') : ''"}}, "y": {"field": "lo", "type": "quantitative", "scale": {"domain": [-3.5, 71.55], "nice": false, "zero": false}, "axis": {"values": [0,10,20,30,40,50,60], "tickCount": 40, "labelExpr": "datum.value % 20 == 0 ? datum.value + '%' : ''"}}, "y2": {"field": "hi"}}},
    {"mark": "line", "encoding": {"x": {"field": "x", "type": "quantitative"}, "y": {"field": "p", "type": "quantitative"}}},
    {"transform": [{"aggregate": [{"op": "count", "as": "n"}], "groupby": ["c"]}], "mark": "rect", "encoding": {"y": {"datum": 71.55, "type": "quantitative"}, "y2": {"datum": 63}}},
    {"transform": [{"aggregate": [{"op": "count", "as": "n"}], "groupby": ["c"]}], "mark": "text", "encoding": {"y": {"datum": 67.27, "type": "quantitative"}, "text": {"field": "c"}}}]},
   {"transform": [{"filter": "datum.c == '5'"}], "width": 81, "height": 78, "layer": [
    {"mark": "area", "encoding": {"x": {"field": "x", "type": "quantitative", "scale": {"domain": [-2.76, 2.42], "nice": false, "zero": false}, "axis": {"values": [-2.5,-2,-1.5,-1,-0.5,0,0.5,1,1.5,2], "tickCount": 40, "labelExpr": "datum.value % 1 == 0 ? format(datum.value, 'd') : ''", "title": "EN", "titleX": 30}}, "y": {"field": "lo", "type": "quantitative", "scale": {"domain": [-3.5, 71.55], "nice": false, "zero": false}, "axis": {"values": [0,10,20,30,40,50,60], "tickCount": 40, "labels": false}}, "y2": {"field": "hi"}}},
    {"mark": "line", "encoding": {"x": {"field": "x", "type": "quantitative"}, "y": {"field": "p", "type": "quantitative"}}},
    {"transform": [{"aggregate": [{"op": "count", "as": "n"}], "groupby": ["c"]}], "mark": "rect", "encoding": {"y": {"datum": 71.55, "type": "quantitative"}, "y2": {"datum": 63}}},
    {"transform": [{"aggregate": [{"op": "count", "as": "n"}], "groupby": ["c"]}], "mark": "text", "encoding": {"y": {"datum": 67.27, "type": "quantitative"}, "text": {"field": "c"}}}]}
  ]}]},
 {"title": {"text": "Y", "orient": "left", "anchor": "middle", "fontSize": 5, "offset": 0},
  "vconcat": [{
  "title": "Predicted probabilities of Y",
  "data": {"name": "d"}, "transform": [{"filter": "datum.v == 'FB'"}],
  "columns": 3, "spacing": {"column": 3, "row": 3},
  "concat": [
   {"transform": [{"filter": "datum.c == '1'"}], "width": 81, "height": 78, "layer": [
    {"mark": "area", "encoding": {"x": {"field": "x", "type": "quantitative", "scale": {"domain": [-1.77, 3.03], "nice": false, "zero": false}, "axis": {"values": [-1.5,-1,-0.5,0,0.5,1,1.5,2,2.5,3], "tickCount": 40, "labelExpr": "datum.value % 1 == 0 ? format(datum.value, 'd') : ''"}}, "y": {"field": "lo", "type": "quantitative", "scale": {"domain": [4.2, 48.55], "nice": false, "zero": false}, "axis": {"values": [5,10,15,20,25,30,35,40], "tickCount": 40, "labelExpr": "datum.value % 10 == 0 ? datum.value + '%' : ''"}}, "y2": {"field": "hi"}}},
    {"mark": "line", "encoding": {"x": {"field": "x", "type": "quantitative"}, "y": {"field": "p", "type": "quantitative"}}},
    {"transform": [{"aggregate": [{"op": "count", "as": "n"}], "groupby": ["c"]}], "mark": "rect", "encoding": {"y": {"datum": 48.55, "type": "quantitative"}, "y2": {"datum": 43.5}}},
    {"transform": [{"aggregate": [{"op": "count", "as": "n"}], "groupby": ["c"]}], "mark": "text", "encoding": {"y": {"datum": 46.02, "type": "quantitative"}, "text": {"field": "c"}}}]},
   {"transform": [{"filter": "datum.c == '2'"}], "width": 81, "height": 78, "layer": [
    {"mark": "area", "encoding": {"x": {"field": "x", "type": "quantitative", "scale": {"domain": [-1.77, 3.03], "nice": false, "zero": false}, "axis": {"values": [-1.5,-1,-0.5,0,0.5,1,1.5,2,2.5,3], "tickCount": 40, "labelExpr": "datum.value % 1 == 0 ? format(datum.value, 'd') : ''"}}, "y": {"field": "lo", "type": "quantitative", "scale": {"domain": [4.2, 48.55], "nice": false, "zero": false}, "axis": {"values": [5,10,15,20,25,30,35,40], "tickCount": 40, "labels": false}}, "y2": {"field": "hi"}}},
    {"mark": "line", "encoding": {"x": {"field": "x", "type": "quantitative"}, "y": {"field": "p", "type": "quantitative"}}},
    {"transform": [{"aggregate": [{"op": "count", "as": "n"}], "groupby": ["c"]}], "mark": "rect", "encoding": {"y": {"datum": 48.55, "type": "quantitative"}, "y2": {"datum": 43.5}}},
    {"transform": [{"aggregate": [{"op": "count", "as": "n"}], "groupby": ["c"]}], "mark": "text", "encoding": {"y": {"datum": 46.02, "type": "quantitative"}, "text": {"field": "c"}}}]},
   {"transform": [{"filter": "datum.c == '3'"}], "width": 81, "height": 78, "layer": [
    {"mark": "area", "encoding": {"x": {"field": "x", "type": "quantitative", "scale": {"domain": [-1.77, 3.03], "nice": false, "zero": false}, "axis": {"values": [-1.5,-1,-0.5,0,0.5,1,1.5,2,2.5,3], "tickCount": 40, "labelExpr": "datum.value % 1 == 0 ? format(datum.value, 'd') : ''"}}, "y": {"field": "lo", "type": "quantitative", "scale": {"domain": [4.2, 48.55], "nice": false, "zero": false}, "axis": {"values": [5,10,15,20,25,30,35,40], "tickCount": 40, "labels": false}}, "y2": {"field": "hi"}}},
    {"mark": "line", "encoding": {"x": {"field": "x", "type": "quantitative"}, "y": {"field": "p", "type": "quantitative"}}},
    {"transform": [{"aggregate": [{"op": "count", "as": "n"}], "groupby": ["c"]}], "mark": "rect", "encoding": {"y": {"datum": 48.55, "type": "quantitative"}, "y2": {"datum": 43.5}}},
    {"transform": [{"aggregate": [{"op": "count", "as": "n"}], "groupby": ["c"]}], "mark": "text", "encoding": {"y": {"datum": 46.02, "type": "quantitative"}, "text": {"field": "c"}}}]},
   {"transform": [{"filter": "datum.c == '4'"}], "width": 81, "height": 78, "layer": [
    {"mark": "area", "encoding": {"x": {"field": "x", "type": "quantitative", "scale": {"domain": [-1.77, 3.03], "nice": false, "zero": false}, "axis": {"values": [-1.5,-1,-0.5,0,0.5,1,1.5,2,2.5,3], "tickCount": 40, "labelExpr": "datum.value % 1 == 0 ? format(datum.value, 'd') : ''"}}, "y": {"field": "lo", "type": "quantitative", "scale": {"domain": [4.2, 48.55], "nice": false, "zero": false}, "axis": {"values": [5,10,15,20,25,30,35,40], "tickCount": 40, "labelExpr": "datum.value % 10 == 0 ? datum.value + '%' : ''"}}, "y2": {"field": "hi"}}},
    {"mark": "line", "encoding": {"x": {"field": "x", "type": "quantitative"}, "y": {"field": "p", "type": "quantitative"}}},
    {"transform": [{"aggregate": [{"op": "count", "as": "n"}], "groupby": ["c"]}], "mark": "rect", "encoding": {"y": {"datum": 48.55, "type": "quantitative"}, "y2": {"datum": 43.5}}},
    {"transform": [{"aggregate": [{"op": "count", "as": "n"}], "groupby": ["c"]}], "mark": "text", "encoding": {"y": {"datum": 46.02, "type": "quantitative"}, "text": {"field": "c"}}}]},
   {"transform": [{"filter": "datum.c == '5'"}], "width": 81, "height": 78, "layer": [
    {"mark": "area", "encoding": {"x": {"field": "x", "type": "quantitative", "scale": {"domain": [-1.77, 3.03], "nice": false, "zero": false}, "axis": {"values": [-1.5,-1,-0.5,0,0.5,1,1.5,2,2.5,3], "tickCount": 40, "labelExpr": "datum.value % 1 == 0 ? format(datum.value, 'd') : ''", "title": "FB", "titleX": 64}}, "y": {"field": "lo", "type": "quantitative", "scale": {"domain": [4.2, 48.55], "nice": false, "zero": false}, "axis": {"values": [5,10,15,20,25,30,35,40], "tickCount": 40, "labels": false}}, "y2": {"field": "hi"}}},
    {"mark": "line", "encoding": {"x": {"field": "x", "type": "quantitative"}, "y": {"field": "p", "type": "quantitative"}}},
    {"transform": [{"aggregate": [{"op": "count", "as": "n"}], "groupby": ["c"]}], "mark": "rect", "encoding": {"y": {"datum": 48.55, "type": "quantitative"}, "y2": {"datum": 43.5}}},
    {"transform": [{"aggregate": [{"op": "count", "as": "n"}], "groupby": ["c"]}], "mark": "text", "encoding": {"y": {"datum": 46.02, "type": "quantitative"}, "text": {"field": "c"}}}]}
  ]}]}
]},
{"spacing": 4, "hconcat": [
 {"title": {"text": "Y", "orient": "left", "anchor": "middle", "fontSize": 5, "offset": 0},
  "vconcat": [{
  "title": "Predicted probabilities of Y",
  "data": {"name": "d"}, "transform": [{"filter": "datum.v == 'PV'"}],
  "columns": 3, "spacing": {"column": 3, "row": 3},
  "concat": [
   {"transform": [{"filter": "datum.c == '1'"}], "width": 81, "height": 78, "layer": [
    {"mark": "area", "encoding": {"x": {"field": "x", "type": "quantitative", "scale": {"domain": [-2.5, 2.48], "nice": false, "zero": false}, "axis": {"values": [-2.5,-2,-1.5,-1,-0.5,0,0.5,1,1.5,2], "tickCount": 40, "labelExpr": "datum.value % 1 == 0 ? format(datum.value, 'd') : ''"}}, "y": {"field": "lo", "type": "quantitative", "scale": {"domain": [2, 58.99], "nice": false, "zero": false}, "axis": {"values": [5,10,15,20,25,30,35,40,45,50], "tickCount": 40, "labelExpr": "datum.value % 10 == 0 ? datum.value + '%' : ''"}}, "y2": {"field": "hi"}}},
    {"mark": "line", "encoding": {"x": {"field": "x", "type": "quantitative"}, "y": {"field": "p", "type": "quantitative"}}},
    {"transform": [{"aggregate": [{"op": "count", "as": "n"}], "groupby": ["c"]}], "mark": "rect", "encoding": {"y": {"datum": 58.99, "type": "quantitative"}, "y2": {"datum": 52.5}}},
    {"transform": [{"aggregate": [{"op": "count", "as": "n"}], "groupby": ["c"]}], "mark": "text", "encoding": {"y": {"datum": 55.75, "type": "quantitative"}, "text": {"field": "c"}}}]},
   {"transform": [{"filter": "datum.c == '2'"}], "width": 81, "height": 78, "layer": [
    {"mark": "area", "encoding": {"x": {"field": "x", "type": "quantitative", "scale": {"domain": [-2.5, 2.48], "nice": false, "zero": false}, "axis": {"values": [-2.5,-2,-1.5,-1,-0.5,0,0.5,1,1.5,2], "tickCount": 40, "labelExpr": "datum.value % 1 == 0 ? format(datum.value, 'd') : ''"}}, "y": {"field": "lo", "type": "quantitative", "scale": {"domain": [2, 58.99], "nice": false, "zero": false}, "axis": {"values": [5,10,15,20,25,30,35,40,45,50], "tickCount": 40, "labels": false}}, "y2": {"field": "hi"}}},
    {"mark": "line", "encoding": {"x": {"field": "x", "type": "quantitative"}, "y": {"field": "p", "type": "quantitative"}}},
    {"transform": [{"aggregate": [{"op": "count", "as": "n"}], "groupby": ["c"]}], "mark": "rect", "encoding": {"y": {"datum": 58.99, "type": "quantitative"}, "y2": {"datum": 52.5}}},
    {"transform": [{"aggregate": [{"op": "count", "as": "n"}], "groupby": ["c"]}], "mark": "text", "encoding": {"y": {"datum": 55.75, "type": "quantitative"}, "text": {"field": "c"}}}]},
   {"transform": [{"filter": "datum.c == '3'"}], "width": 81, "height": 78, "layer": [
    {"mark": "area", "encoding": {"x": {"field": "x", "type": "quantitative", "scale": {"domain": [-2.5, 2.48], "nice": false, "zero": false}, "axis": {"values": [-2.5,-2,-1.5,-1,-0.5,0,0.5,1,1.5,2], "tickCount": 40, "labelExpr": "datum.value % 1 == 0 ? format(datum.value, 'd') : ''"}}, "y": {"field": "lo", "type": "quantitative", "scale": {"domain": [2, 58.99], "nice": false, "zero": false}, "axis": {"values": [5,10,15,20,25,30,35,40,45,50], "tickCount": 40, "labels": false}}, "y2": {"field": "hi"}}},
    {"mark": "line", "encoding": {"x": {"field": "x", "type": "quantitative"}, "y": {"field": "p", "type": "quantitative"}}},
    {"transform": [{"aggregate": [{"op": "count", "as": "n"}], "groupby": ["c"]}], "mark": "rect", "encoding": {"y": {"datum": 58.99, "type": "quantitative"}, "y2": {"datum": 52.5}}},
    {"transform": [{"aggregate": [{"op": "count", "as": "n"}], "groupby": ["c"]}], "mark": "text", "encoding": {"y": {"datum": 55.75, "type": "quantitative"}, "text": {"field": "c"}}}]},
   {"transform": [{"filter": "datum.c == '4'"}], "width": 81, "height": 78, "layer": [
    {"mark": "area", "encoding": {"x": {"field": "x", "type": "quantitative", "scale": {"domain": [-2.5, 2.48], "nice": false, "zero": false}, "axis": {"values": [-2.5,-2,-1.5,-1,-0.5,0,0.5,1,1.5,2], "tickCount": 40, "labelExpr": "datum.value % 1 == 0 ? format(datum.value, 'd') : ''"}}, "y": {"field": "lo", "type": "quantitative", "scale": {"domain": [2, 58.99], "nice": false, "zero": false}, "axis": {"values": [5,10,15,20,25,30,35,40,45,50], "tickCount": 40, "labelExpr": "datum.value % 10 == 0 ? datum.value + '%' : ''"}}, "y2": {"field": "hi"}}},
    {"mark": "line", "encoding": {"x": {"field": "x", "type": "quantitative"}, "y": {"field": "p", "type": "quantitative"}}},
    {"transform": [{"aggregate": [{"op": "count", "as": "n"}], "groupby": ["c"]}], "mark": "rect", "encoding": {"y": {"datum": 58.99, "type": "quantitative"}, "y2": {"datum": 52.5}}},
    {"transform": [{"aggregate": [{"op": "count", "as": "n"}], "groupby": ["c"]}], "mark": "text", "encoding": {"y": {"datum": 55.75, "type": "quantitative"}, "text": {"field": "c"}}}]},
   {"transform": [{"filter": "datum.c == '5'"}], "width": 81, "height": 78, "layer": [
    {"mark": "area", "encoding": {"x": {"field": "x", "type": "quantitative", "scale": {"domain": [-2.5, 2.48], "nice": false, "zero": false}, "axis": {"values": [-2.5,-2,-1.5,-1,-0.5,0,0.5,1,1.5,2], "tickCount": 40, "labelExpr": "datum.value % 1 == 0 ? format(datum.value, 'd') : ''", "title": "PV", "titleX": 30}}, "y": {"field": "lo", "type": "quantitative", "scale": {"domain": [2, 58.99], "nice": false, "zero": false}, "axis": {"values": [5,10,15,20,25,30,35,40,45,50], "tickCount": 40, "labels": false}}, "y2": {"field": "hi"}}},
    {"mark": "line", "encoding": {"x": {"field": "x", "type": "quantitative"}, "y": {"field": "p", "type": "quantitative"}}},
    {"transform": [{"aggregate": [{"op": "count", "as": "n"}], "groupby": ["c"]}], "mark": "rect", "encoding": {"y": {"datum": 58.99, "type": "quantitative"}, "y2": {"datum": 52.5}}},
    {"transform": [{"aggregate": [{"op": "count", "as": "n"}], "groupby": ["c"]}], "mark": "text", "encoding": {"y": {"datum": 55.75, "type": "quantitative"}, "text": {"field": "c"}}}]}
  ]}]},
 {"title": {"text": "Y", "orient": "left", "anchor": "middle", "fontSize": 5, "offset": 0},
  "vconcat": [{
  "title": "Predicted probabilities of Y",
  "data": {"name": "d"}, "transform": [{"filter": "datum.v == 'SB'"}],
  "columns": 3, "spacing": {"column": 3, "row": 3},
  "concat": [
   {"transform": [{"filter": "datum.c == '1'"}], "width": 81, "height": 78, "layer": [
    {"mark": "area", "encoding": {"x": {"field": "x", "type": "quantitative", "scale": {"domain": [-2.05, 2.35], "nice": false, "zero": false}, "axis": {"values": [-2,-1.5,-1,-0.5,0,0.5,1,1.5,2], "tickCount": 40, "labelExpr": "datum.value % 1 == 0 ? format(datum.value, 'd') : ''"}}, "y": {"field": "lo", "type": "quantitative", "scale": {"domain": [2, 55.6], "nice": false, "zero": false}, "axis": {"values": [5,10,15,20,25,30,35,40,45], "tickCount": 40, "labelExpr": "datum.value % 10 == 0 ? datum.value + '%' : ''"}}, "y2": {"field": "hi"}}},
    {"mark": "line", "encoding": {"x": {"field": "x", "type": "quantitative"}, "y": {"field": "p", "type": "quantitative"}}},
    {"transform": [{"aggregate": [{"op": "count", "as": "n"}], "groupby": ["c"]}], "mark": "rect", "encoding": {"y": {"datum": 55.6, "type": "quantitative"}, "y2": {"datum": 49.5}}},
    {"transform": [{"aggregate": [{"op": "count", "as": "n"}], "groupby": ["c"]}], "mark": "text", "encoding": {"y": {"datum": 52.55, "type": "quantitative"}, "text": {"field": "c"}}}]},
   {"transform": [{"filter": "datum.c == '2'"}], "width": 81, "height": 78, "layer": [
    {"mark": "area", "encoding": {"x": {"field": "x", "type": "quantitative", "scale": {"domain": [-2.05, 2.35], "nice": false, "zero": false}, "axis": {"values": [-2,-1.5,-1,-0.5,0,0.5,1,1.5,2], "tickCount": 40, "labelExpr": "datum.value % 1 == 0 ? format(datum.value, 'd') : ''"}}, "y": {"field": "lo", "type": "quantitative", "scale": {"domain": [2, 55.6], "nice": false, "zero": false}, "axis": {"values": [5,10,15,20,25,30,35,40,45], "tickCount": 40, "labels": false}}, "y2": {"field": "hi"}}},
    {"mark": "line", "encoding": {"x": {"field": "x", "type": "quantitative"}, "y": {"field": "p", "type": "quantitative"}}},
    {"transform": [{"aggregate": [{"op": "count", "as": "n"}], "groupby": ["c"]}], "mark": "rect", "encoding": {"y": {"datum": 55.6, "type": "quantitative"}, "y2": {"datum": 49.5}}},
    {"transform": [{"aggregate": [{"op": "count", "as": "n"}], "groupby": ["c"]}], "mark": "text", "encoding": {"y": {"datum": 52.55, "type": "quantitative"}, "text": {"field": "c"}}}]},
   {"transform": [{"filter": "datum.c == '3'"}], "width": 81, "height": 78, "layer": [
    {"mark": "area", "encoding": {"x": {"field": "x", "type": "quantitative", "scale": {"domain": [-2.05, 2.35], "nice": false, "zero": false}, "axis": {"values": [-2,-1.5,-1,-0.5,0,0.5,1,1.5,2], "tickCount": 40, "labelExpr": "datum.value % 1 == 0 ? format(datum.value, 'd') : ''"}}, "y": {"field": "lo", "type": "quantitative", "scale": {"domain": [2, 55.6], "nice": false, "zero": false}, "axis": {"values": [5,10,15,20,25,30,35,40,45], "tickCount": 40, "labels": false}}, "y2": {"field": "hi"}}},
    {"mark": "line", "encoding": {"x": {"field": "x", "type": "quantitative"}, "y": {"field": "p", "type": "quantitative"}}},
    {"transform": [{"aggregate": [{"op": "count", "as": "n"}], "groupby": ["c"]}], "mark": "rect", "encoding": {"y": {"datum": 55.6, "type": "quantitative"}, "y2": {"datum": 49.5}}},
    {"transform": [{"aggregate": [{"op": "count", "as": "n"}], "groupby": ["c"]}], "mark": "text", "encoding": {"y": {"datum": 52.55, "type": "quantitative"}, "text": {"field": "c"}}}]},
   {"transform": [{"filter": "datum.c == '4'"}], "width": 81, "height": 78, "layer": [
    {"mark": "area", "encoding": {"x": {"field": "x", "type": "quantitative", "scale": {"domain": [-2.05, 2.35], "nice": false, "zero": false}, "axis": {"values": [-2,-1.5,-1,-0.5,0,0.5,1,1.5,2], "tickCount": 40, "labelExpr": "datum.value % 1 == 0 ? format(datum.value, 'd') : ''"}}, "y": {"field": "lo", "type": "quantitative", "scale": {"domain": [2, 55.6], "nice": false, "zero": false}, "axis": {"values": [5,10,15,20,25,30,35,40,45], "tickCount": 40, "labelExpr": "datum.value % 10 == 0 ? datum.value + '%' : ''"}}, "y2": {"field": "hi"}}},
    {"mark": "line", "encoding": {"x": {"field": "x", "type": "quantitative"}, "y": {"field": "p", "type": "quantitative"}}},
    {"transform": [{"aggregate": [{"op": "count", "as": "n"}], "groupby": ["c"]}], "mark": "rect", "encoding": {"y": {"datum": 55.6, "type": "quantitative"}, "y2": {"datum": 49.5}}},
    {"transform": [{"aggregate": [{"op": "count", "as": "n"}], "groupby": ["c"]}], "mark": "text", "encoding": {"y": {"datum": 52.55, "type": "quantitative"}, "text": {"field": "c"}}}]},
   {"transform": [{"filter": "datum.c == '5'"}], "width": 81, "height": 78, "layer": [
    {"mark": "area", "encoding": {"x": {"field": "x", "type": "quantitative", "scale": {"domain": [-2.05, 2.35], "nice": false, "zero": false}, "axis": {"values": [-2,-1.5,-1,-0.5,0,0.5,1,1.5,2], "tickCount": 40, "labelExpr": "datum.value % 1 == 0 ? format(datum.value, 'd') : ''", "title": "SB", "titleX": 66}}, "y": {"field": "lo", "type": "quantitative", "scale": {"domain": [2, 55.6], "nice": false, "zero": false}, "axis": {"values": [5,10,15,20,25,30,35,40,45], "tickCount": 40, "labels": false}}, "y2": {"field": "hi"}}},
    {"mark": "line", "encoding": {"x": {"field": "x", "type": "quantitative"}, "y": {"field": "p", "type": "quantitative"}}},
    {"transform": [{"aggregate": [{"op": "count", "as": "n"}], "groupby": ["c"]}], "mark": "rect", "encoding": {"y": {"datum": 55.6, "type": "quantitative"}, "y2": {"datum": 49.5}}},
    {"transform": [{"aggregate": [{"op": "count", "as": "n"}], "groupby": ["c"]}], "mark": "text", "encoding": {"y": {"datum": 52.55, "type": "quantitative"}, "text": {"field": "c"}}}]}
  ]}]}
]}
]
}
